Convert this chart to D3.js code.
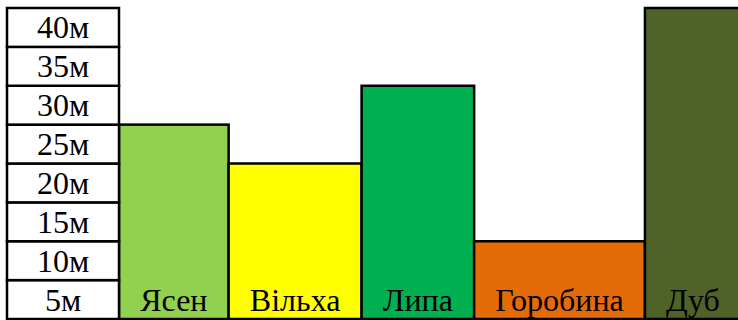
<!DOCTYPE html>
<html><head><meta charset="utf-8">
<script src="https://cdn.jsdelivr.net/npm/d3@7"></script>
<style>html,body{margin:0;padding:0;background:#fff;overflow:hidden}</style>
</head><body><svg id="c" width="738" height="320"></svg>
<script>
const categories = ["Ясен", "Вільха", "Липа", "Горобина", "Дуб"];
const heights = [25, 20, 30, 10, 40];
const tickValues = [5, 10, 15, 20, 25, 30, 35, 40];
const tickLabels = ["5м", "10м", "15м", "20м", "25м", "30м", "35м", "40м"];
const colors = ["#92D050", "#FFFF00", "#00B050", "#E36C09", "#4F6228"];

const svg = d3.select("#c");
const font = "'Liberation Serif','Times New Roman',serif";
const fs = 32;
const step = 5;
const y = d3.scaleLinear().domain([0, 40]).range([319, 8]);
const axisLeft = 7, axisRight = 119, plotRight = 741;

// table-like auto layout: column width = label width + equal padding
const measure = svg.append("g").attr("visibility", "hidden");
const widths = categories.map(c => measure.append("text")
  .attr("font-family", font).attr("font-size", fs).text(c)
  .node().getComputedTextLength());
measure.remove();
const pad = (plotRight - axisRight - d3.sum(widths)) / categories.length;
const edges = [0];
widths.forEach(w => edges.push(edges[edges.length - 1] + w + pad));
const x = d3.scaleLinear().domain([0, edges[edges.length - 1]]).range([axisRight, plotRight]);

const data = categories.map((c, i) => ({c, v: heights[i], x0: edges[i], x1: edges[i + 1], col: colors[i]}));

// bars
svg.append("g").selectAll("rect").data(data).join("rect")
  .attr("x", d => x(d.x0)).attr("width", d => x(d.x1) - x(d.x0))
  .attr("y", d => y(d.v)).attr("height", d => y(0) - y(d.v))
  .attr("fill", d => d.col).attr("stroke", "#000").attr("stroke-width", 2.5);

// left label column
const ticks = tickValues.map((v, i) => ({v, label: tickLabels[i]}));
const cells = svg.append("g");
cells.selectAll("rect").data(ticks).join("rect")
  .attr("x", axisLeft).attr("width", axisRight - axisLeft)
  .attr("y", d => y(d.v)).attr("height", d => y(d.v - step) - y(d.v))
  .attr("fill", "#fff").attr("stroke", "#000").attr("stroke-width", 2.5);
cells.selectAll("text").data(ticks).join("text")
  .attr("x", (axisLeft + axisRight) / 2)
  .attr("y", d => (y(d.v) + y(d.v - step)) / 2 + 11)
  .attr("text-anchor", "middle")
  .attr("font-family", font).attr("font-size", fs).attr("fill", "#000")
  .text(d => d.label);

// category labels
svg.append("g").selectAll("text").data(data).join("text")
  .attr("x", d => (x(d.x0) + x(d.x1)) / 2)
  .attr("y", (y(0) + y(step)) / 2 + 11)
  .attr("text-anchor", "middle")
  .attr("font-family", font).attr("font-size", fs).attr("fill", "#000")
  .text(d => d.c);
</script></body></html>
